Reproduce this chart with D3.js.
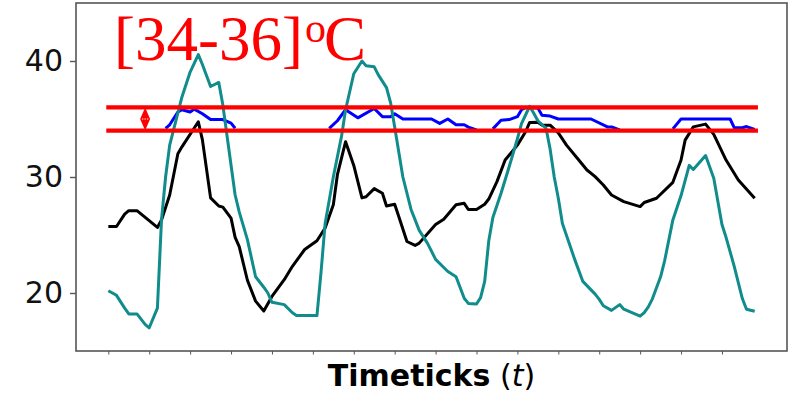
<!DOCTYPE html>
<html>
<head>
<meta charset="utf-8">
<script src="https://cdn.jsdelivr.net/npm/d3@7"></script>
<style>
  html, body { margin: 0; padding: 0; background: #fff; }
  svg { display: block; }
</style>
</head>
<body>
<svg id="chart" width="788" height="394"></svg>
<script>
// Sample count (timeticks 0..158) and labelled ticks
const nSamples = 159;
const xTickValues = d3.range(0, 151, 10);
const yTickValues = [20, 30, 40];

// Comfort band limits (°C)
const bandLow = 34;
const bandHigh = 36;
const bandMid = 35;
const bandLabel = "[34-36]";

// Indoor temperature (black): [timetick, °C] at each vertex
const indoorT = [0, 2, 4, 5, 7, 12, 13, 15, 17, 18, 22, 23, 25, 27, 28, 30, 31, 32, 34, 36, 38, 40, 43, 45, 48, 51, 53, 55, 56, 58, 60, 62, 63, 65, 67, 68, 70, 71, 73, 75, 76, 80, 82, 85, 87, 88, 90, 92, 93, 95, 97, 100, 102, 103, 105, 106, 108, 110, 112, 115, 117, 119, 121, 123, 126, 130, 131, 134, 138, 140, 141, 143, 146, 148, 151, 154, 158];
const indoorV = [25.73, 25.73, 26.8, 27.1, 27.1, 25.65, 26.3, 28.45, 32.0, 32.6, 34.76, 33.2, 28.2, 27.5, 27.4, 26.45, 24.8, 24.0, 21.1, 19.3, 18.45, 19.7, 21.15, 22.3, 23.75, 24.5, 25.6, 27.6, 30.2, 33.04, 31.0, 28.2, 28.3, 29.0, 28.6, 27.5, 27.65, 26.6, 24.44, 24.1, 24.3, 25.9, 26.36, 27.6, 27.73, 27.2, 27.2, 27.65, 28.1, 29.6, 31.46, 32.75, 33.9, 34.7, 34.72, 34.47, 34.47, 33.8, 32.75, 31.46, 30.6, 30.03, 29.31, 28.45, 27.88, 27.45, 27.8, 28.17, 29.54, 31.46, 33.18, 34.32, 34.56, 33.67, 31.46, 29.74, 28.17];

// Outdoor temperature (teal)
const outdoorT = [0, 2, 4, 5, 7, 9, 10, 12, 13, 14, 15, 18, 20, 22, 23, 25, 27, 28, 29, 31, 32, 34, 35, 36, 38, 39, 40, 43, 45, 46, 51, 52, 53, 54, 55, 57, 58, 60, 62, 63, 65, 66, 68, 69, 70, 72, 74, 76, 78, 80, 82, 83, 85, 87, 88, 90, 91, 92, 93, 94, 96, 98, 100, 101, 103, 104, 105, 107, 108, 109, 110, 111, 114, 116, 119, 120, 121, 123, 125, 126, 128, 130, 131, 132, 133, 135, 136, 138, 140, 142, 143, 146, 148, 150, 151, 153, 155, 156, 158];
const outdoorV = [20.2, 19.8, 18.7, 18.2, 18.2, 17.3, 17.0, 18.7, 26.3, 30.0, 32.75, 36.9, 39.05, 40.55, 39.7, 37.8, 38.15, 36.2, 33.6, 28.45, 27.0, 24.6, 23.0, 21.4, 20.5, 20.0, 19.2, 19.0, 18.3, 18.07, 18.05, 21.8, 26.0, 28.0, 30.0, 33.5, 35.8, 38.9, 40.0, 39.6, 39.5, 38.8, 37.7, 36.4, 34.3, 30.0, 27.2, 25.4, 24.3, 22.9, 22.2, 21.85, 21.4, 19.55, 19.1, 19.05, 19.6, 21.0, 24.5, 26.5, 28.6, 30.9, 33.3, 34.6, 36.1, 35.5, 34.85, 34.2, 32.4, 30.0, 28.17, 26.0, 22.9, 21.0, 19.9, 19.45, 18.9, 18.5, 19.0, 18.6, 18.3, 18.0, 18.3, 18.8, 19.5, 21.4, 22.8, 26.3, 28.4, 31.0, 30.65, 31.85, 29.9, 25.9, 24.8, 22.3, 19.5, 18.6, 18.42];

// Indoor temperature while inside the band (blue); null breaks the line
const inBandT = [14, 15, 17, 18, 20, 21, 23, 25, 28, 30, 31, 32,
                 54, 56, 58, 61, 65, 67, 69, 70, 72, 79, 81, 83, 85, 87, 88, 90, 91,
                 94, 96, 98, 100, 101, 102, 105, 106, 108, 110, 118, 122, 123, 125, 126,
                 138, 140, 152, 153, 155, 156, 158];
const inBandV = [34.2, 34.5, 35.6, 35.8, 35.6, 35.85, 35.45, 34.95, 34.95, 34.65, 34.2, null,
                 34.2, 34.85, 35.8, 35.1, 35.9, 35.2, 35.2, 35.45, 35.0, 35.0, 34.62, 35.0, 34.5, 34.5, 34.3, 34.05, null,
                 34.15, 34.9, 34.95, 35.2, 35.8, 36.0, 35.95, 35.33, 35.25, 35.0, 35.0, 34.32, 34.32, 34.05, null,
                 34.15, 35.0, 35.0, 34.25, 34.25, 34.35, 34.1];

// Horizontal extent of the band limit lines (timeticks)
const bandFrom = -0.5;
const bandTo = 158.8;

const svg = d3.select("#chart");
const margin = { left: 76, right: 1, top: 3, bottom: 43 };
const W = 788, H = 394;

const x = d3.scaleLinear()
  .domain([-0.05 * (nSamples - 1), (nSamples - 1) * 1.05])
  .range([margin.left, W - margin.right]);
const y = d3.scaleLinear()
  .domain([15, 45])
  .range([H - margin.bottom, margin.top]);

const frameColor = "#555";
const lw = 3;

// Axes
const yAxis = d3.axisLeft(y).tickValues(yTickValues).tickSize(6).tickPadding(7).tickFormat(d3.format("d"));
const gy = svg.append("g").attr("transform", `translate(${margin.left},0)`).call(yAxis);
gy.select(".domain").remove();
gy.selectAll(".tick line").attr("stroke", frameColor).attr("stroke-width", 1.4);
gy.selectAll(".tick text")
  .attr("font-family", "DejaVu Sans")
  .attr("font-size", 30)
  .attr("fill", "#111");

const xAxis = d3.axisBottom(x).tickValues(xTickValues).tickSize(3.5).tickFormat("");
const gx = svg.append("g").attr("transform", `translate(0,${H - margin.bottom})`).call(xAxis);
gx.select(".domain").remove();
gx.selectAll(".tick line").attr("stroke", frameColor).attr("stroke-width", 1);

// Series
const pairs = (ts, vs) => ts.map((t, i) => [t, vs[i]]);
const line = d3.line()
  .defined(d => d[1] !== null)
  .x(d => x(d[0]))
  .y(d => y(d[1]));

const plot = svg.append("g");
plot.append("path").datum(pairs(inBandT, inBandV))
  .attr("d", line).attr("fill", "none").attr("stroke", "#0000ff")
  .attr("stroke-width", lw).attr("stroke-linejoin", "round");
plot.append("path").datum(pairs(indoorT, indoorV))
  .attr("d", line).attr("fill", "none").attr("stroke", "#000")
  .attr("stroke-width", lw).attr("stroke-linejoin", "round");
plot.append("path").datum(pairs(outdoorT, outdoorV))
  .attr("d", line).attr("fill", "none").attr("stroke", "#118c8c")
  .attr("stroke-width", lw).attr("stroke-linejoin", "round");

// Band limits
[bandLow, bandHigh].forEach(v => {
  plot.append("line")
    .attr("x1", x(bandFrom)).attr("x2", x(bandTo))
    .attr("y1", y(v)).attr("y2", y(v))
    .attr("stroke", "#ff0000").attr("stroke-width", 4.4);
});

// Double-headed marker spanning the band
const mx = x(9);
const hw = 5;
plot.append("path")
  .attr("d", `M${mx},${y(bandHigh)} L${mx + hw},${y(bandMid)} L${mx},${y(bandLow)} L${mx - hw},${y(bandMid)} Z`)
  .attr("fill", "#ff0000");
[-2.5, 0, 2.5].forEach(dx => {
  plot.append("circle").attr("cx", mx + dx).attr("cy", y(bandMid))
    .attr("r", 0.8).attr("fill", "#fff").attr("opacity", 0.8);
});

// Frame
svg.append("rect")
  .attr("x", margin.left).attr("y", margin.top)
  .attr("width", W - margin.right - margin.left)
  .attr("height", H - margin.bottom - margin.top)
  .attr("fill", "none").attr("stroke", frameColor).attr("stroke-width", 1.6);

// Band label
const title = svg.append("text")
  .attr("x", 114).attr("y", 60)
  .attr("font-family", "Liberation Serif")
  .attr("font-size", 63)
  .attr("fill", "#ff0000");
title.append("tspan").text(bandLabel);
title.append("tspan").attr("font-size", 42).attr("dy", -18).attr("dx", 2).text("o");
title.append("tspan").attr("dy", 18).attr("dx", -2).text("C");

// X-axis label
const xl = svg.append("text")
  .attr("x", (margin.left + W - margin.right) / 2)
  .attr("y", 386)
  .attr("text-anchor", "middle")
  .attr("font-family", "DejaVu Sans")
  .attr("font-size", 30)
  .attr("fill", "#000");
xl.append("tspan").attr("font-weight", "bold").text("Timeticks");
xl.append("tspan").text(" (");
xl.append("tspan").attr("font-style", "italic").text("t");
xl.append("tspan").text(")");
</script>
</body>
</html>
